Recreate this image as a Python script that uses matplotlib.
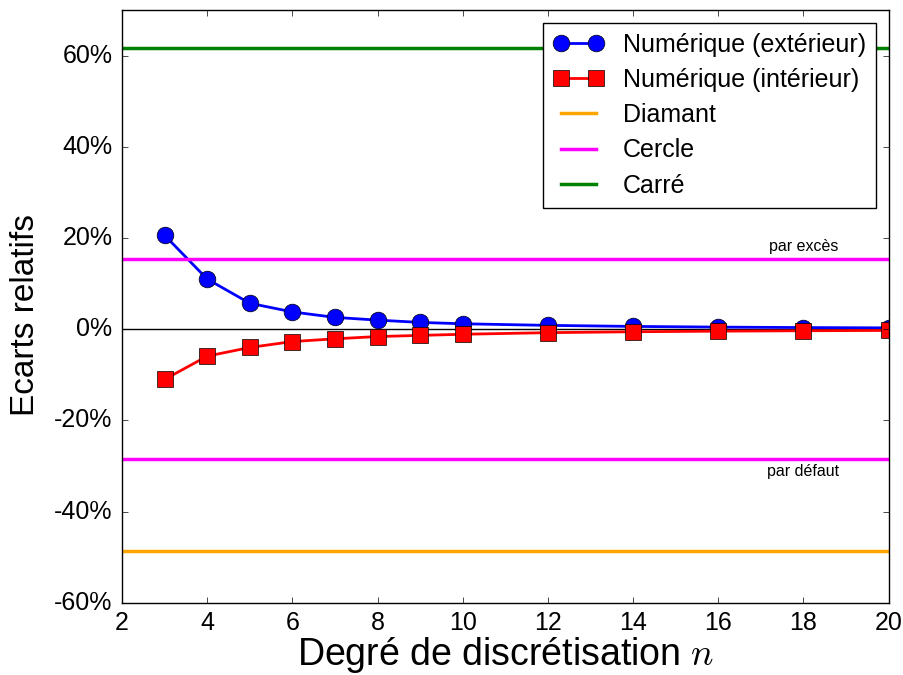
import matplotlib
matplotlib.use("Agg")
import matplotlib.pyplot as plt
from matplotlib.ticker import FuncFormatter

# Degré de discrétisation
n_vals = [3, 4, 5, 6, 7, 8, 9, 10, 12, 14, 16, 18, 20]

# Ecarts relatifs (en fraction)
ext_vals = [0.206, 0.110, 0.057, 0.038, 0.026, 0.020, 0.015, 0.012, 0.0085, 0.0062, 0.0047, 0.0037, 0.003]
int_vals = [-0.110, -0.059, -0.040, -0.027, -0.021, -0.016, -0.0135, -0.011, -0.0075, -0.0055, -0.0042, -0.0033, -0.0026]

# Niveaux constants
diamant = -0.486
cercle_exces = 0.154
cercle_defaut = -0.284
carre = 0.617

plt.style.use('classic')
plt.rcParams['font.family'] = ['Liberation Sans', 'DejaVu Sans']
plt.rcParams['mathtext.fontset'] = 'cm'

fig, ax = plt.subplots(figsize=(9.04, 6.75), dpi=100)
fig.patch.set_facecolor('white')

ax.axhline(0, color='black', lw=1)
ax.plot(n_vals, ext_vals, '-o', color='blue', mec='black', ms=12, lw=2,
        label='Numérique (extérieur)')
ax.plot(n_vals, int_vals, '-s', color='red', mec='black', ms=12, lw=2,
        label='Numérique (intérieur)')
ax.axhline(diamant, color='orange', lw=2.5, label='Diamant')
ax.axhline(cercle_exces, color='magenta', lw=2.5, label='Cercle')
ax.axhline(cercle_defaut, color='magenta', lw=2.5)
ax.axhline(carre, color='green', lw=2.5, label='Carré')

# annotations des niveaux du cercle
ax.text(18, cercle_exces + 0.012, 'par excès', fontsize=11.5, ha='center', va='bottom')
ax.text(18, cercle_defaut - 0.012, 'par défaut', fontsize=11.5, ha='center', va='top')

ax.set_xlim(2, 20)
ax.set_ylim(-0.6, 0.7)
ax.set_yticks([-0.6, -0.4, -0.2, 0, 0.2, 0.4, 0.6])
ax.yaxis.set_major_formatter(FuncFormatter(lambda v, p: '{:.0f}%'.format(v * 100)))
ax.tick_params(labelsize=18)
ax.tick_params(axis='y', pad=7)
ax.tick_params(axis='x', pad=6)

ax.set_xlabel('Degré de discrétisation $n$', fontsize=27, labelpad=0)
ax.set_ylabel('Ecarts relatifs', fontsize=24)
ax.yaxis.set_label_coords(-0.106, 0.486)

leg = ax.legend(loc='upper right', fontsize=18, numpoints=2, labelspacing=0.45)
leg.get_frame().set_linewidth(1)

fig.subplots_adjust(left=0.135, right=0.983, bottom=0.107, top=0.985)
fig.savefig('out.png', dpi=100, facecolor='white')
